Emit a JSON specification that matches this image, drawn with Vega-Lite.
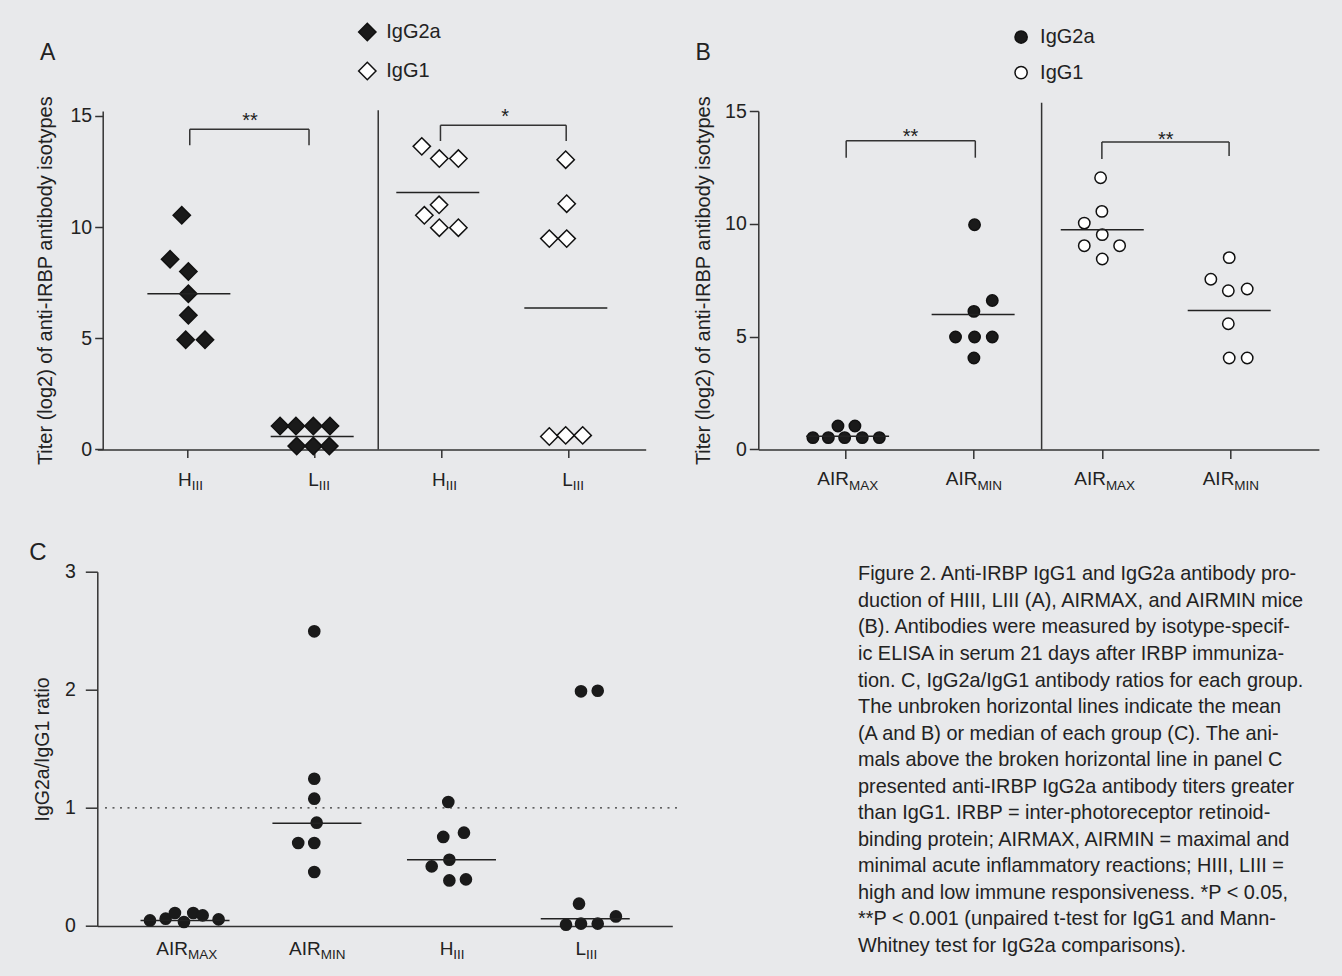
{
  "$schema": "https://vega.github.io/schema/vega-lite/v6.json",
  "background": "#e8e9eb",
  "padding": {"left": 29.3, "top": 22, "right": 40, "bottom": 40},
  "config": {
    "view": {"stroke": null},
    "font": "Liberation Sans",
    "axis": {"domainColor": "#333", "tickColor": "#333", "domainWidth": 1.5, "tickWidth": 1.5, "labelColor": "#222", "titleColor": "#222", "labelFontSize": 19.5, "titleFontSize": 20, "titleFontWeight": "normal", "grid": false},
    "text": {"color": "#222"}
  },
  "datasets": {
    "A_points": [
      {"pos": 0.953, "val": 10.53, "iso": "IgG2a"}, {"pos": 0.861, "val": 8.55, "iso": "IgG2a"}, {"pos": 1.005, "val": 8.0, "iso": "IgG2a"}, {"pos": 1.005, "val": 7.0, "iso": "IgG2a"}, {"pos": 1.005, "val": 6.03, "iso": "IgG2a"}, {"pos": 0.984, "val": 4.93, "iso": "IgG2a"}, {"pos": 1.136, "val": 4.93, "iso": "IgG2a"},
      {"pos": 1.727, "val": 1.05, "iso": "IgG2a"}, {"pos": 1.852, "val": 1.05, "iso": "IgG2a"}, {"pos": 1.989, "val": 1.05, "iso": "IgG2a"}, {"pos": 2.12, "val": 1.05, "iso": "IgG2a"}, {"pos": 1.858, "val": 0.15, "iso": "IgG2a"}, {"pos": 1.989, "val": 0.15, "iso": "IgG2a"}, {"pos": 2.115, "val": 0.15, "iso": "IgG2a"},
      {"pos": 2.843, "val": 13.63, "iso": "IgG1"}, {"pos": 2.981, "val": 13.08, "iso": "IgG1"}, {"pos": 3.131, "val": 13.08, "iso": "IgG1"}, {"pos": 2.979, "val": 11.0, "iso": "IgG1"}, {"pos": 2.863, "val": 10.53, "iso": "IgG1"}, {"pos": 2.981, "val": 9.97, "iso": "IgG1"}, {"pos": 3.131, "val": 9.97, "iso": "IgG1"},
      {"pos": 3.976, "val": 13.03, "iso": "IgG1"}, {"pos": 3.984, "val": 11.05, "iso": "IgG1"}, {"pos": 3.847, "val": 9.48, "iso": "IgG1"}, {"pos": 3.984, "val": 9.48, "iso": "IgG1"}, {"pos": 3.847, "val": 0.58, "iso": "IgG1"}, {"pos": 3.976, "val": 0.63, "iso": "IgG1"}, {"pos": 4.11, "val": 0.63, "iso": "IgG1"}
    ],
    "A_means": [{"pos": 1.009, "val": 7.0}, {"pos": 1.98, "val": 0.58}, {"pos": 2.969, "val": 11.55}, {"pos": 3.977, "val": 6.36}],
    "A_rules": [
      {"pos": 2.5, "pos2": 2.5, "val": 0, "val2": 15.25},
      {"pos": 1.016, "pos2": 1.955, "val": 14.4, "val2": 14.4}, {"pos": 1.016, "pos2": 1.016, "val": 13.68, "val2": 14.4}, {"pos": 1.955, "pos2": 1.955, "val": 13.68, "val2": 14.4},
      {"pos": 2.99, "pos2": 3.98, "val": 14.58, "val2": 14.58}, {"pos": 2.99, "pos2": 2.99, "val": 13.87, "val2": 14.58}, {"pos": 3.98, "pos2": 3.98, "val": 13.87, "val2": 14.58}
    ],
    "A_stars": [{"pos": 1.49, "val": 14.5, "t": "**"}, {"pos": 3.5, "val": 14.7, "t": "*"}],
    "A_labels": [{"pos": 1, "main": "H", "sub": "III"}, {"pos": 2, "main": "L", "sub": "III"}, {"pos": 3, "main": "H", "sub": "III"}, {"pos": 4, "main": "L", "sub": "III"}],
    "B_points": [
      {"pos": 0.751, "val": 0.52, "iso": "IgG2a"}, {"pos": 0.871, "val": 0.52, "iso": "IgG2a"}, {"pos": 0.998, "val": 0.52, "iso": "IgG2a"}, {"pos": 1.135, "val": 0.52, "iso": "IgG2a"}, {"pos": 1.268, "val": 0.52, "iso": "IgG2a"}, {"pos": 0.946, "val": 1.04, "iso": "IgG2a"}, {"pos": 1.078, "val": 1.04, "iso": "IgG2a"},
      {"pos": 2.009, "val": 9.96, "iso": "IgG2a"}, {"pos": 2.147, "val": 6.6, "iso": "IgG2a"}, {"pos": 2.004, "val": 6.12, "iso": "IgG2a"}, {"pos": 1.861, "val": 4.98, "iso": "IgG2a"}, {"pos": 2.009, "val": 4.98, "iso": "IgG2a"}, {"pos": 2.147, "val": 4.98, "iso": "IgG2a"}, {"pos": 2.004, "val": 4.05, "iso": "IgG2a"},
      {"pos": 2.99, "val": 12.04, "iso": "IgG1"}, {"pos": 3.0, "val": 10.55, "iso": "IgG1"}, {"pos": 2.863, "val": 10.03, "iso": "IgG1"}, {"pos": 3.003, "val": 9.52, "iso": "IgG1"}, {"pos": 2.863, "val": 9.03, "iso": "IgG1"}, {"pos": 3.138, "val": 9.03, "iso": "IgG1"}, {"pos": 3.003, "val": 8.44, "iso": "IgG1"},
      {"pos": 3.991, "val": 8.5, "iso": "IgG1"}, {"pos": 3.848, "val": 7.54, "iso": "IgG1"}, {"pos": 3.984, "val": 7.03, "iso": "IgG1"}, {"pos": 4.131, "val": 7.11, "iso": "IgG1"}, {"pos": 3.984, "val": 5.57, "iso": "IgG1"}, {"pos": 3.991, "val": 4.05, "iso": "IgG1"}, {"pos": 4.131, "val": 4.05, "iso": "IgG1"}
    ],
    "B_means": [{"pos": 1.021, "val": 0.58}, {"pos": 1.998, "val": 5.98}, {"pos": 3.003, "val": 9.74}, {"pos": 3.991, "val": 6.16}],
    "B_rules": [
      {"pos": 2.531, "pos2": 2.531, "val": 0, "val2": 15.37},
      {"pos": 1.01, "pos2": 2.015, "val": 13.68, "val2": 13.68}, {"pos": 1.01, "pos2": 1.01, "val": 12.93, "val2": 13.68}, {"pos": 2.015, "pos2": 2.015, "val": 12.93, "val2": 13.68},
      {"pos": 3.0, "pos2": 3.99, "val": 13.63, "val2": 13.63}, {"pos": 3.0, "pos2": 3.0, "val": 12.87, "val2": 13.63}, {"pos": 3.99, "pos2": 3.99, "val": 13.0, "val2": 13.63}
    ],
    "B_stars": [{"pos": 1.511, "val": 13.56, "t": "**"}, {"pos": 3.498, "val": 13.45, "t": "**"}],
    "B_labels": [{"pos": 1, "main": "AIR", "sub": "MAX"}, {"pos": 2, "main": "AIR", "sub": "MIN"}, {"pos": 3, "main": "AIR", "sub": "MAX"}, {"pos": 4, "main": "AIR", "sub": "MIN"}],
    "C_points": [
      {"pos": 0.744, "val": 0.047}, {"pos": 0.862, "val": 0.062}, {"pos": 0.932, "val": 0.11}, {"pos": 1.0, "val": 0.034}, {"pos": 1.07, "val": 0.11}, {"pos": 1.141, "val": 0.09}, {"pos": 1.261, "val": 0.056},
      {"pos": 1.982, "val": 2.495}, {"pos": 1.982, "val": 1.247}, {"pos": 1.982, "val": 1.078}, {"pos": 2.0, "val": 0.875}, {"pos": 1.861, "val": 0.703}, {"pos": 1.982, "val": 0.703}, {"pos": 1.982, "val": 0.457},
      {"pos": 2.992, "val": 1.05}, {"pos": 2.954, "val": 0.754}, {"pos": 3.11, "val": 0.79}, {"pos": 3.0, "val": 0.561}, {"pos": 2.867, "val": 0.505}, {"pos": 3.0, "val": 0.386}, {"pos": 3.125, "val": 0.395},
      {"pos": 3.992, "val": 1.987}, {"pos": 4.118, "val": 1.992}, {"pos": 3.977, "val": 0.189}, {"pos": 4.255, "val": 0.081}, {"pos": 3.879, "val": 0.011}, {"pos": 3.992, "val": 0.02}, {"pos": 4.118, "val": 0.02}
    ],
    "C_medians": [{"pos": 1.008, "val": 0.047}, {"pos": 2.002, "val": 0.869}, {"pos": 3.016, "val": 0.561}, {"pos": 4.024, "val": 0.062}],
    "C_labels": [{"pos": 1, "main": "AIR", "sub": "MAX"}, {"pos": 2, "main": "AIR", "sub": "MIN"}, {"pos": 3, "main": "H", "sub": "III"}, {"pos": 4, "main": "L", "sub": "III"}],
    "caption": [
      {"line": 1, "text": "Figure 2. Anti-IRBP IgG1 and IgG2a antibody pro-"},
      {"line": 2, "text": "duction of HIII, LIII (A), AIRMAX, and AIRMIN mice"},
      {"line": 3, "text": "(B). Antibodies were measured by isotype-specif-"},
      {"line": 4, "text": "ic ELISA in serum 21 days after IRBP immuniza-"},
      {"line": 5, "text": "tion. C, IgG2a/IgG1 antibody ratios for each group."},
      {"line": 6, "text": "The unbroken horizontal lines indicate the mean"},
      {"line": 7, "text": "(A and B) or median of each group (C). The ani-"},
      {"line": 8, "text": "mals above the broken horizontal line in panel C"},
      {"line": 9, "text": "presented anti-IRBP IgG2a antibody titers greater"},
      {"line": 10, "text": "than IgG1. IRBP = inter-photoreceptor retinoid-"},
      {"line": 11, "text": "binding protein; AIRMAX, AIRMIN = maximal and"},
      {"line": 12, "text": "minimal acute inflammatory reactions; HIII, LIII ="},
      {"line": 13, "text": "high and low immune responsiveness. *P < 0.05,"},
      {"line": 14, "text": "**P < 0.001 (unpaired t-test for IgG1 and Mann-"},
      {"line": 15, "text": "Whitney test for IgG2a comparisons)."}
    ]
  },
  "bounds": "flush",
  "spacing": 460.7,
  "resolve": {"scale": {"fill": "independent"}, "legend": {"fill": "independent"}},
  "vconcat": [
    {
      "bounds": "flush",
      "spacing": 112,
      "resolve": {"scale": {"fill": "independent"}, "legend": {"fill": "independent"}},
      "hconcat": [
        {
          "width": 548.4,
          "height": 338.4,
          "layer": [
            {"data": {"name": "A_points"}, "mark": {"type": "point", "shape": "diamond", "filled": true, "size": 300, "stroke": "#111", "strokeWidth": 1.5, "opacity": 1},
             "encoding": {
               "x": {"field": "pos", "type": "quantitative", "scale": {"domain": [0.288, 4.606], "nice": false, "zero": false}, "axis": {"values": [1, 2, 3, 4], "labels": false, "title": null, "tickSize": 8}},
               "y": {"field": "val", "type": "quantitative", "scale": {"domain": [0, 15.22], "nice": false, "zero": false}, "axis": {"values": [0, 5, 10, 15], "format": "d", "title": "Titer (log2) of anti-IRBP antibody isotypes", "offset": -5.4, "tickSize": 8, "labelPadding": 3, "titlePadding": 14.7}},
               "fill": {"field": "iso", "type": "nominal", "scale": {"domain": ["IgG2a", "IgG1"], "range": ["#1a1a1a", "#ffffff"]},
                 "legend": {"orient": "none", "legendX": 260, "legendY": -89, "title": null, "symbolType": "diamond", "symbolSize": 300, "symbolStrokeColor": "#111", "symbolStrokeWidth": 1.5, "labelFontSize": 20, "labelOffset": 9, "rowPadding": 15, "padding": 0, "labelColor": "#222"}}}},
            {"data": {"name": "A_rules"}, "mark": {"type": "rule", "stroke": "#333", "strokeWidth": 1.5},
             "encoding": {"x": {"field": "pos", "type": "quantitative"}, "x2": {"field": "pos2"}, "y": {"field": "val", "type": "quantitative"}, "y2": {"field": "val2"}}},
            {"data": {"name": "A_stars"}, "mark": {"type": "text", "align": "center", "baseline": "alphabetic", "fontSize": 20},
             "encoding": {"x": {"field": "pos", "type": "quantitative"}, "y": {"field": "val", "type": "quantitative"}, "text": {"field": "t"}}},
            {"data": {"name": "A_means"}, "mark": {"type": "tick", "orient": "horizontal", "size": 83, "thickness": 1.5, "color": "#222", "opacity": 1},
             "encoding": {"x": {"field": "pos", "type": "quantitative"}, "y": {"field": "val", "type": "quantitative"}}},
            {"data": {"name": "A_labels"}, "mark": {"type": "text", "align": "right", "baseline": "alphabetic", "fontSize": 19, "dx": 4, "dy": 36.6},
             "encoding": {"x": {"field": "pos", "type": "quantitative"}, "y": {"datum": 0, "type": "quantitative"}, "text": {"field": "main"}}},
            {"data": {"name": "A_labels"}, "mark": {"type": "text", "align": "left", "baseline": "alphabetic", "fontSize": 13.5, "dx": 4, "dy": 41},
             "encoding": {"x": {"field": "pos", "type": "quantitative"}, "y": {"datum": 0, "type": "quantitative"}, "text": {"field": "sub"}}},
            {"data": {"values": [{"letter": "A"}]}, "mark": {"type": "text", "align": "left", "baseline": "alphabetic", "fontSize": 23, "dx": -57.3},
             "encoding": {"x": {"datum": 0.288, "type": "quantitative"}, "y": {"datum": 17.5, "type": "quantitative"}, "text": {"field": "letter"}}}
          ]
        },
        {
          "width": 560.6,
          "height": 338.4,
          "layer": [
            {"data": {"name": "B_points"}, "mark": {"type": "point", "shape": "circle", "filled": true, "size": 130, "stroke": "#111", "strokeWidth": 1.5, "opacity": 1},
             "encoding": {
               "x": {"field": "pos", "type": "quantitative", "scale": {"domain": [0.326, 4.689], "nice": false, "zero": false}, "axis": {"values": [1, 2, 3, 4], "labels": false, "title": null, "tickSize": 9}},
               "y": {"field": "val", "type": "quantitative", "scale": {"domain": [0, 15], "nice": false, "zero": false}, "axis": {"values": [0, 5, 10, 15], "format": "d", "title": "Titer (log2) of anti-IRBP antibody isotypes", "tickSize": 9, "labelPadding": 3, "titlePadding": 11}},
               "fill": {"field": "iso", "type": "nominal", "scale": {"domain": ["IgG2a", "IgG1"], "range": ["#1a1a1a", "#ffffff"]},
                 "legend": {"orient": "none", "legendX": 252.8, "legendY": -84, "title": null, "symbolType": "circle", "symbolSize": 150, "symbolStrokeColor": "#111", "symbolStrokeWidth": 1.5, "labelFontSize": 20, "labelOffset": 9, "rowPadding": 15.6, "padding": 0, "labelColor": "#222"}}}},
            {"data": {"name": "B_rules"}, "mark": {"type": "rule", "stroke": "#333", "strokeWidth": 1.5},
             "encoding": {"x": {"field": "pos", "type": "quantitative"}, "x2": {"field": "pos2"}, "y": {"field": "val", "type": "quantitative"}, "y2": {"field": "val2"}}},
            {"data": {"name": "B_stars"}, "mark": {"type": "text", "align": "center", "baseline": "alphabetic", "fontSize": 20},
             "encoding": {"x": {"field": "pos", "type": "quantitative"}, "y": {"field": "val", "type": "quantitative"}, "text": {"field": "t"}}},
            {"data": {"name": "B_means"}, "mark": {"type": "tick", "orient": "horizontal", "size": 83, "thickness": 1.5, "color": "#222", "opacity": 1},
             "encoding": {"x": {"field": "pos", "type": "quantitative"}, "y": {"field": "val", "type": "quantitative"}}},
            {"data": {"name": "B_labels"}, "mark": {"type": "text", "align": "right", "baseline": "alphabetic", "fontSize": 19, "dx": 4, "dy": 36},
             "encoding": {"x": {"field": "pos", "type": "quantitative"}, "y": {"datum": 0, "type": "quantitative"}, "text": {"field": "main"}}},
            {"data": {"name": "B_labels"}, "mark": {"type": "text", "align": "left", "baseline": "alphabetic", "fontSize": 13.5, "dx": 4, "dy": 41},
             "encoding": {"x": {"field": "pos", "type": "quantitative"}, "y": {"datum": 0, "type": "quantitative"}, "text": {"field": "sub"}}},
            {"data": {"values": [{"letter": "B"}]}, "mark": {"type": "text", "align": "left", "baseline": "alphabetic", "fontSize": 23, "dx": -62.7},
             "encoding": {"x": {"datum": 0.326, "type": "quantitative"}, "y": {"datum": 17.24, "type": "quantitative"}, "text": {"field": "letter"}}}
          ]
        }
      ]
    },
    {
      "bounds": "flush",
      "spacing": 185.7,
      "hconcat": [
        {
          "width": 575,
          "height": 354.3,
          "layer": [
            {"data": {"name": "C_points"}, "mark": {"type": "point", "shape": "circle", "filled": true, "size": 160, "fill": "#1a1a1a", "strokeWidth": 0, "opacity": 1},
             "encoding": {
               "x": {"field": "pos", "type": "quantitative", "scale": {"domain": [0.347, 4.68], "nice": false, "zero": false}, "axis": {"values": [1, 2, 3, 4], "labels": false, "ticks": false, "title": null}},
               "y": {"field": "val", "type": "quantitative", "scale": {"domain": [0, 3], "nice": false, "zero": false}, "axis": {"values": [0, 1, 2, 3], "format": "d", "title": "IgG2a/IgG1 ratio", "titleFontSize": 19.5, "tickSize": 12, "labelPadding": 10, "titlePadding": 12}}}},
            {"data": {"values": [{"ref": 1, "from": 0.405, "to": 4.738}]}, "mark": {"type": "rule", "stroke": "#333", "strokeWidth": 1.3, "strokeDash": [2, 5.5]},
             "encoding": {"x": {"field": "from", "type": "quantitative"}, "x2": {"field": "to"}, "y": {"field": "ref", "type": "quantitative"}}},
            {"data": {"name": "C_medians"}, "mark": {"type": "tick", "orient": "horizontal", "size": 89, "thickness": 1.5, "color": "#222", "opacity": 1},
             "encoding": {"x": {"field": "pos", "type": "quantitative"}, "y": {"field": "val", "type": "quantitative"}}},
            {"data": {"name": "C_labels"}, "mark": {"type": "text", "align": "right", "baseline": "alphabetic", "fontSize": 19, "dx": 4, "dy": 29.4},
             "encoding": {"x": {"field": "pos", "type": "quantitative"}, "y": {"datum": 0, "type": "quantitative"}, "text": {"field": "main"}}},
            {"data": {"name": "C_labels"}, "mark": {"type": "text", "align": "left", "baseline": "alphabetic", "fontSize": 13.5, "dx": 4, "dy": 33.4},
             "encoding": {"x": {"field": "pos", "type": "quantitative"}, "y": {"datum": 0, "type": "quantitative"}, "text": {"field": "sub"}}},
            {"data": {"values": [{"letter": "C"}]}, "mark": {"type": "text", "align": "left", "baseline": "alphabetic", "fontSize": 24, "dx": -68},
             "encoding": {"x": {"datum": 0.347, "type": "quantitative"}, "y": {"datum": 3.096, "type": "quantitative"}, "text": {"field": "letter"}}}
          ]
        },
        {
          "width": 445,
          "height": 354.3,
          "data": {"name": "caption"},
          "mark": {"type": "text", "align": "left", "baseline": "alphabetic", "fontSize": 19.9, "color": "#222"},
          "encoding": {
            "x": {"datum": 0, "type": "quantitative", "scale": {"domain": [0, 1], "range": [0, 445]}, "axis": null},
            "y": {"field": "line", "type": "quantitative", "scale": {"domain": [1, 15], "range": [8.7, 380.3]}, "axis": null},
            "text": {"field": "text"}
          }
        }
      ]
    }
  ]
}
